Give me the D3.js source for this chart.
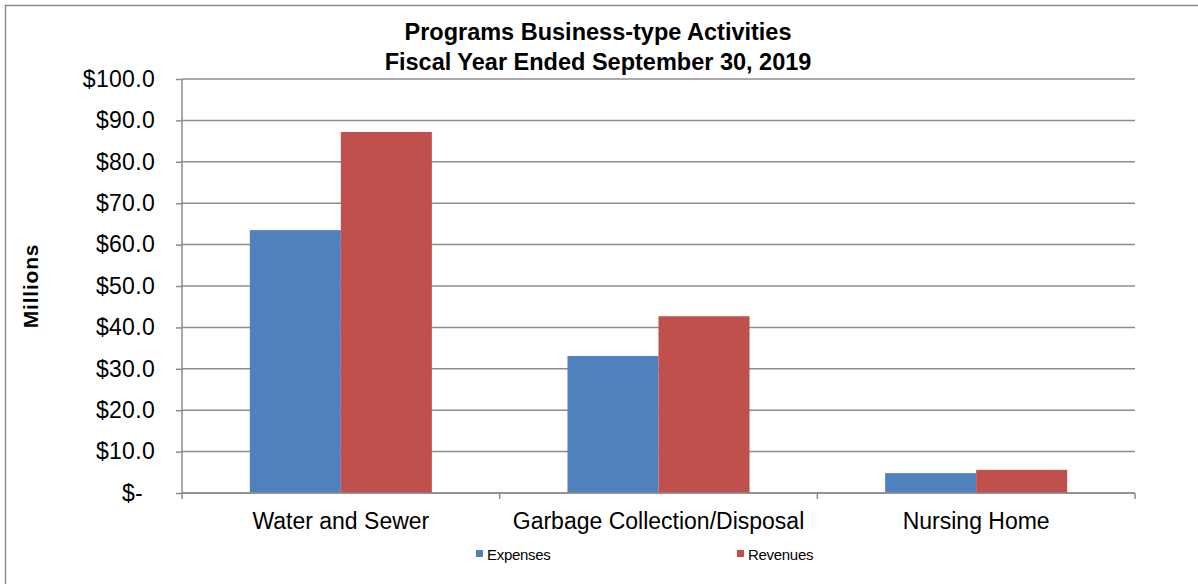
<!DOCTYPE html>
<html>
<head>
<meta charset="utf-8">
<script src="https://cdn.jsdelivr.net/npm/d3@7"></script>
<style>
  html, body { margin: 0; padding: 0; background: #fff; }
  svg { display: block; font-family: "Liberation Sans", Arial, sans-serif; }
</style>
</head>
<body>
<svg id="chart" width="1198" height="584"></svg>
<script>
// Program categories and amounts (millions of dollars)
const categories = ["Water and Sewer", "Garbage Collection/Disposal", "Nursing Home"];
const seriesNames = ["Expenses", "Revenues"];
const expenses = [63.5, 33.1, 4.8];
const revenues = [87.2, 42.7, 5.6];
const yTicks = [0, 10, 20, 30, 40, 50, 60, 70, 80, 90, 100];
const titleLines = ["Programs Business-type Activities", "Fiscal Year Ended September 30, 2019"];

const colors = { Expenses: "#4f81bd", Revenues: "#c0504d" };
const gridColor = "#8c8c8c";

const svg = d3.select("#chart");
const plot = { left: 182, right: 1135, top: 79, bottom: 493 };

// Outer chart frame (extends past right and bottom edges)
svg.append("rect")
  .attr("x", 5.5).attr("y", 5.5)
  .attr("width", 1220).attr("height", 600)
  .attr("fill", "#fff").attr("stroke", "#8c8c8c").attr("stroke-width", 1.5);

const x0 = d3.scaleBand().domain(categories).range([plot.left, plot.right]).padding(0);
const x1 = d3.scaleBand().domain(seriesNames).range([0, x0.bandwidth()])
  .paddingInner(0).paddingOuter(0.745);
const y = d3.scaleLinear().domain([0, 100]).range([plot.bottom, plot.top]);

// Horizontal gridlines
svg.append("g").selectAll("line").data(yTicks).join("line")
  .attr("x1", plot.left).attr("x2", plot.right)
  .attr("y1", d => y(d)).attr("y2", d => y(d))
  .attr("stroke", gridColor).attr("stroke-width", 1.5);

// Y axis with tick marks
const yAxis = d3.axisLeft(y).tickValues(yTicks).tickSize(6)
  .tickFormat(d => d === 0 ? "$-" : "$" + d3.format(".1f")(d));
const gy = svg.append("g").attr("transform", `translate(${plot.left},0)`).call(yAxis);
gy.select(".domain").attr("stroke", gridColor).attr("stroke-width", 1.5).attr("d", `M0,${plot.top}V${plot.bottom}`);
gy.selectAll(".tick line").attr("stroke", gridColor).attr("stroke-width", 1.5);
gy.selectAll(".tick text")
  .attr("font-size", 23).attr("fill", "#000")
  .attr("font-family", "'Liberation Sans', Arial, sans-serif")
  .attr("letter-spacing", 0.3)
  .attr("x", d => d === 0 ? -39 : -27);

// Bars
const groups = svg.append("g").selectAll("g").data(categories).join("g")
  .attr("transform", d => `translate(${x0(d)},0)`);
groups.selectAll("rect")
  .data((d, i) => [{ key: "Expenses", value: expenses[i] }, { key: "Revenues", value: revenues[i] }])
  .join("rect")
  .attr("x", d => x1(d.key))
  .attr("width", x1.bandwidth())
  .attr("y", d => y(d.value))
  .attr("height", d => y(0) - y(d.value))
  .attr("fill", d => colors[d.key]);

// X axis baseline and category tick marks
const xAxis = d3.axisBottom(x0).tickSize(0).tickPadding(20);
const gx = svg.append("g").attr("transform", `translate(0,${plot.bottom})`).call(xAxis);
gx.select(".domain").attr("stroke", gridColor).attr("stroke-width", 1.5).attr("d", `M${plot.left},0H${plot.right}`);
gx.selectAll(".tick text").attr("font-size", 23).attr("fill", "#000")
  .attr("font-family", "'Liberation Sans', Arial, sans-serif");
const bounds = [plot.left, ...categories.map(c => x0(c) + x0.bandwidth())];
gx.append("g").selectAll("line").data(bounds).join("line")
  .attr("x1", d => d).attr("x2", d => d).attr("y1", 0).attr("y2", 6)
  .attr("stroke", gridColor).attr("stroke-width", 1.5);

// Title
svg.append("g").selectAll("text").data(titleLines).join("text")
  .attr("x", 598).attr("y", (d, i) => 40 + i * 30)
  .attr("text-anchor", "middle").attr("font-size", 23.5).attr("font-weight", "bold")
  .text(d => d);

// Y axis title
svg.append("text")
  .attr("transform", "translate(38,286) rotate(-90)")
  .attr("text-anchor", "middle").attr("font-size", 21).attr("font-weight", "bold")
  .attr("letter-spacing", 0.8)
  .text("Millions");

// Legend
const legendX = [476, 737];
const legend = svg.append("g").selectAll("g").data(seriesNames).join("g")
  .attr("transform", (d, i) => `translate(${legendX[i]},555)`);
legend.append("rect").attr("x", 0).attr("y", -5).attr("width", 7).attr("height", 7)
  .attr("fill", d => colors[d]);
legend.append("text").attr("x", 11).attr("y", 5).attr("font-size", 15)
  .attr("letter-spacing", -0.3).text(d => d);
</script>
</body>
</html>
